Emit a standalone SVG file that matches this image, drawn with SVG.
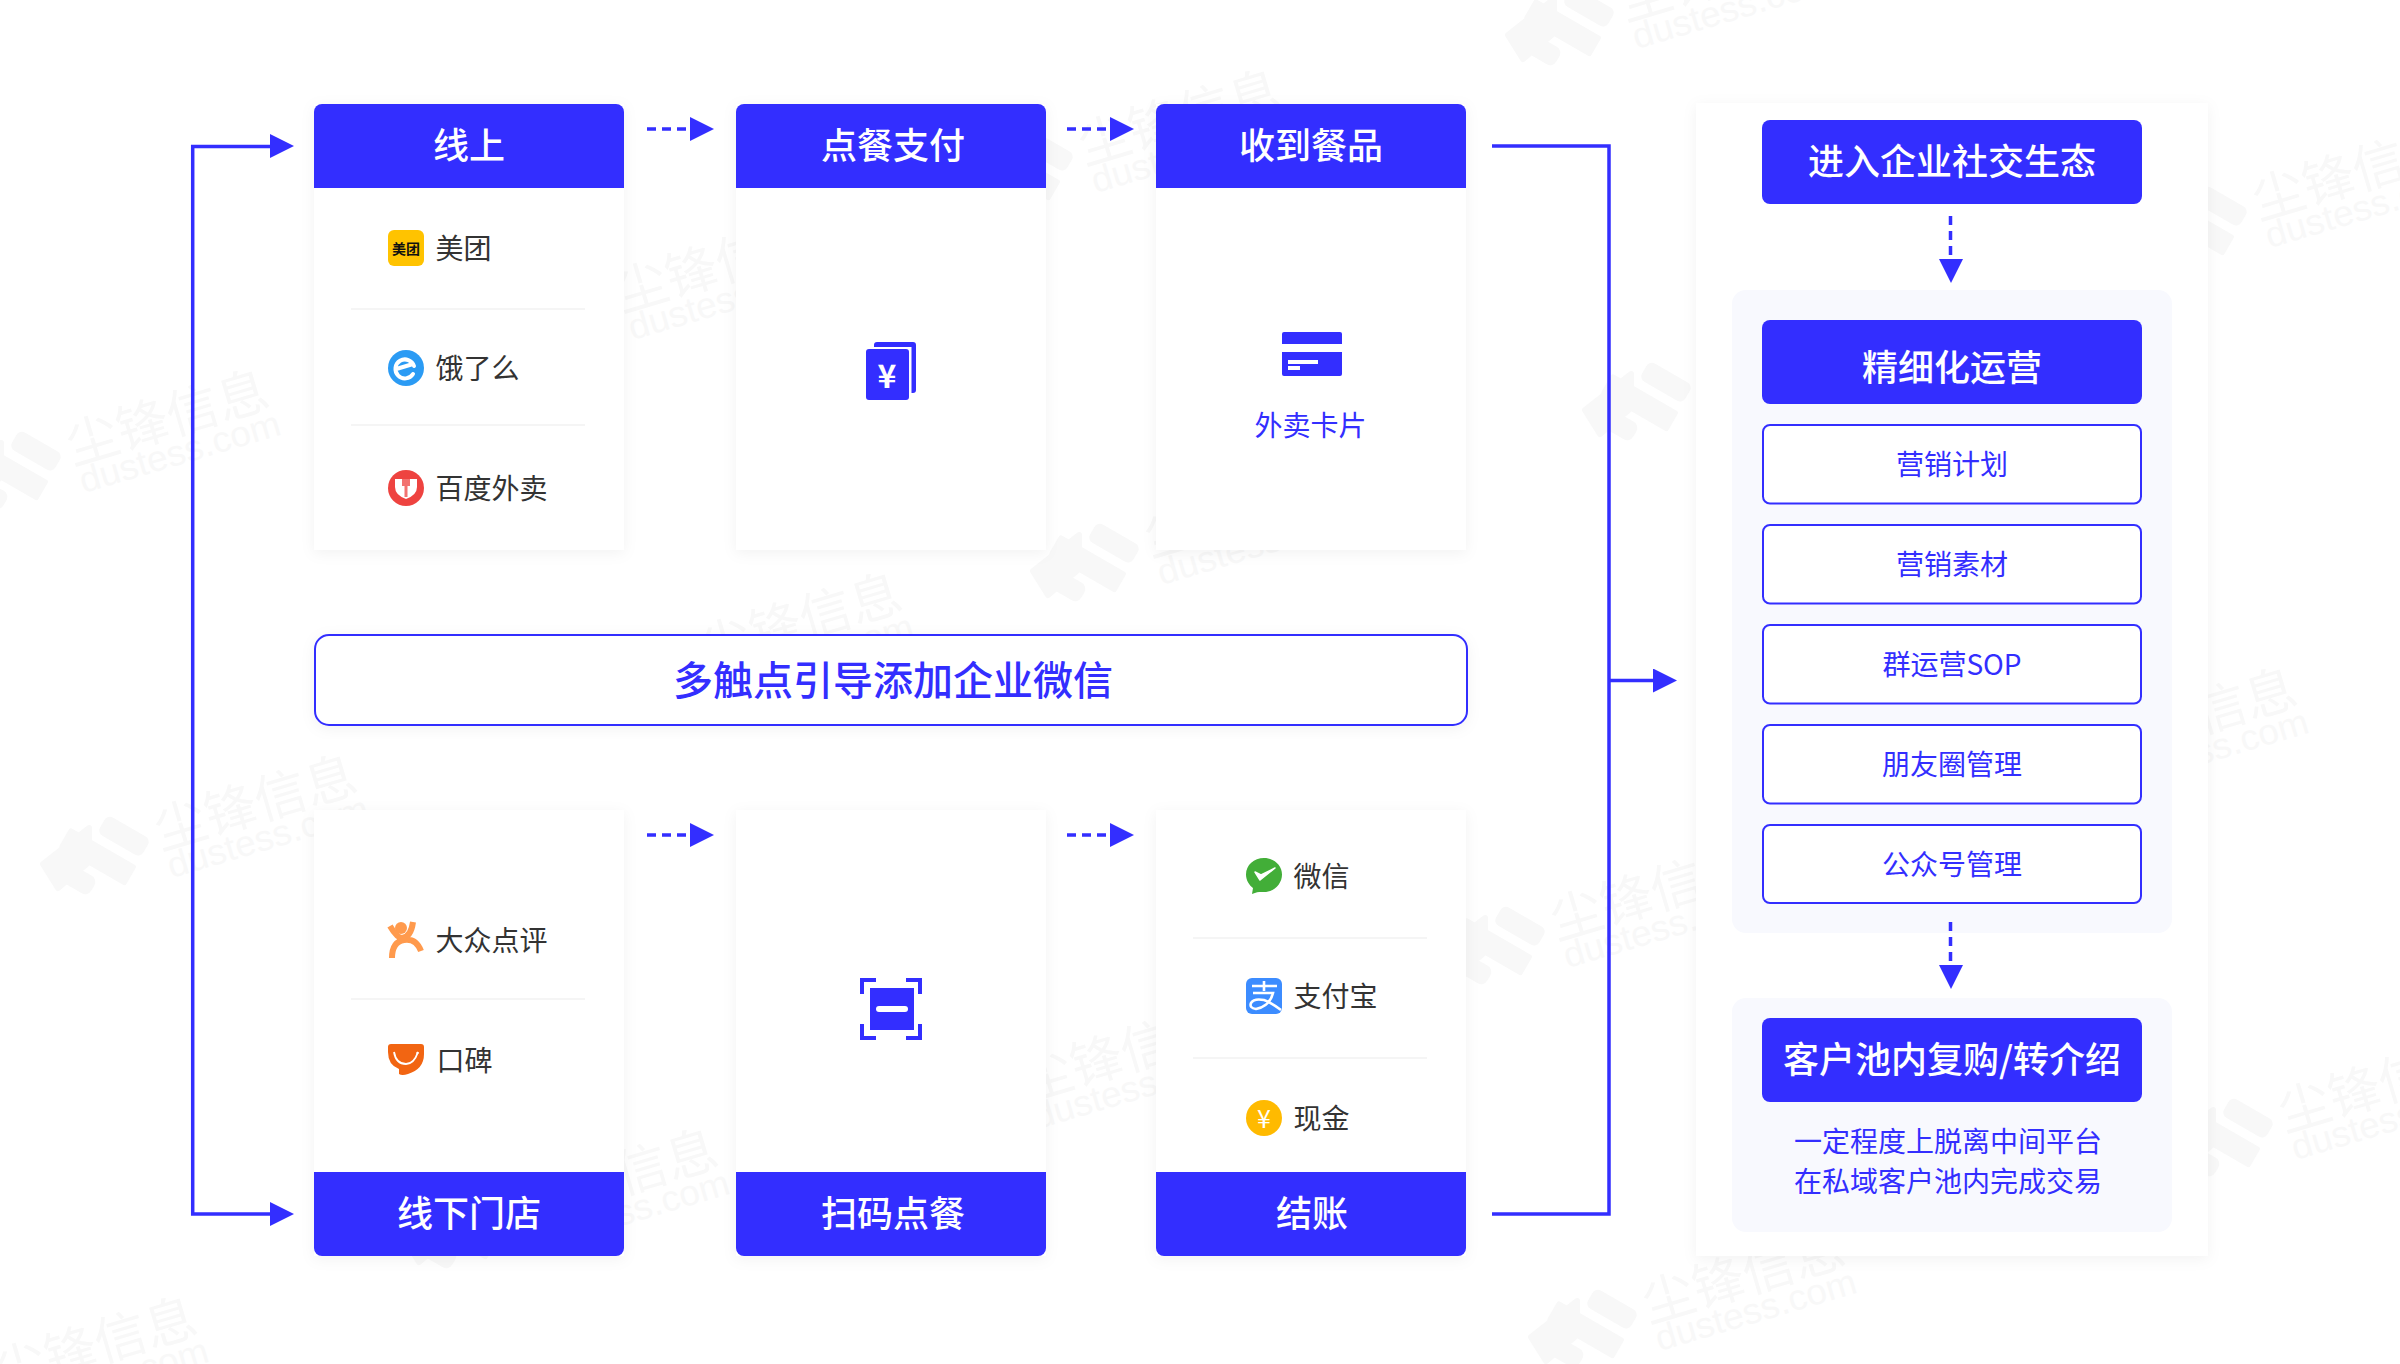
<svg xmlns="http://www.w3.org/2000/svg" width="2400" height="1364" viewBox="0 0 2400 1364">
<style>
text{font-family:"Noto Sans CJK SC","Noto Sans",sans-serif;dominant-baseline:central}
.h{fill:#fff;font-size:36px;font-weight:500;text-anchor:middle;transform:translateY(-3px)}
.b{fill:#332eff;font-size:28px;text-anchor:middle;transform:translateY(-2px)}
.i{fill:#333;font-size:28px;transform:translate(-1.5px,-1.5px)}
.blue{fill:#332eff}
.card{fill:#fff;filter:url(#sh)}
.div{fill:#f5f5f5}
.out{fill:#fff;stroke:#332eff;stroke-width:2}
.pale{fill:#f8f9fe}
.c{fill:none;stroke:#332eff;stroke-width:3.5}
.d{fill:none;stroke:#332eff;stroke-width:3.5;stroke-dasharray:9 6}
.wt{font-size:52px;fill:#f8f8f8;dominant-baseline:auto}
.wl{font-size:36px;fill:#f8f8f8;font-family:"Liberation Sans",sans-serif;dominant-baseline:auto}
.wm{fill:#f8f8f8}
</style>
<defs>
<filter id="sh" x="-15%" y="-15%" width="130%" height="130%"><feDropShadow dx="0" dy="3" stdDeviation="7" flood-color="#000" flood-opacity="0.05"/></filter>
<marker id="ah" markerUnits="userSpaceOnUse" markerWidth="24" markerHeight="24" refX="0" refY="12" orient="auto"><path d="M0 0L24 12L0 24Z" fill="#332eff"/></marker>
<g id="w">
<g class="wm" transform="rotate(30)">
<rect x="-64" y="-4" width="50" height="21" rx="6"/>
<rect x="-90" y="26" width="77" height="23" rx="2"/>
<rect x="-86" y="57" width="46" height="20" rx="7"/>
</g>
<path class="wm" d="M-72-22L-118 14L-103 38L-72 12Z" stroke="#f8f8f8" stroke-width="6" stroke-linejoin="round"/>
<g transform="rotate(-16.5)">
<text class="wt" x="0" y="0" textLength="208" lengthAdjust="spacingAndGlyphs">尘锋信息</text>
<text class="wl" x="2" y="30" textLength="208" lengthAdjust="spacingAndGlyphs">dustess.com</text>
</g>
</g>
</defs>
<rect width="2400" height="1364" fill="#fff"/>
<g id="watermarks">
<use href="#w" x="73" y="465"/><use href="#w" x="161" y="850"/><use href="#w" x="706" y="668"/><use href="#w" x="1151" y="557"/><use href="#w" x="1649" y="1323"/><use href="#w" x="1703" y="396"/><use href="#w" x="1626" y="21"/><use href="#w" x="2259" y="220"/><use href="#w" x="1557" y="940"/><use href="#w" x="622" y="312"/><use href="#w" x="1027" y="1101"/><use href="#w" x="522" y="1224"/><use href="#w" x="2285" y="1132"/><use href="#w" x="2101" y="763"/><use href="#w" x="1" y="1392"/><use href="#w" x="1085" y="165"/>
</g>

<g id="connectors">
<path class="c" d="M270 146.500H192.700V1214H270"/>
<path d="M270 134L294 146L270 158Z M270 1202L294 1214L270 1226Z" fill="#332eff"/>
<path class="c" d="M1492 146H1609V1214H1492"/>
<path class="c" d="M1609 680.500H1653" marker-end="url(#ah)"/>
<path class="d" d="M647 129H690" marker-end="url(#ah)"/>
<path class="d" d="M1067 129H1110" marker-end="url(#ah)"/>
<path class="d" d="M647 835H690" marker-end="url(#ah)"/>
<path class="d" d="M1067 835H1110" marker-end="url(#ah)"/>
</g>

<g id="online">
<path class="card" d="M314 104H624V550H314Z"/>
<path class="blue" d="M322 104H616a8 8 0 0 1 8 8V188H314V112a8 8 0 0 1 8-8Z"/>
<text class="h" x="469" y="146">线上</text>
<rect x="388" y="230" width="36" height="36" rx="6" fill="#ffc300"/>
<text x="406" y="248" font-size="14" font-weight="700" fill="#111" text-anchor="middle">美团</text>
<text class="i" x="437" y="248">美团</text>
<rect class="div" x="351" y="308" width="234" height="2"/>
<circle cx="406" cy="368" r="18" fill="#2b9bf4"/>
<path d="M414 366A9.500 9.500 0 1 0 413 374M398 368.500L413 364" fill="none" stroke="#fff" stroke-width="4" stroke-linecap="round"/>
<text class="i" x="437" y="368">饿了么</text>
<rect class="div" x="351" y="424" width="234" height="2"/>
<circle cx="406" cy="488" r="18" fill="#ee4340"/>
<path d="M395 479H417V487Q417 495 406 499Q395 495 395 487Z" fill="#fff"/>
<path d="M402 479H410V486H407.500V497H404.500V486H402Z" fill="#ee4340" opacity="0.75"/>
<text class="i" x="437" y="488">百度外卖</text>
</g>

<g id="order-pay">
<path class="card" d="M736 104H1046V550H736Z"/>
<path class="blue" d="M744 104H1038a8 8 0 0 1 8 8V188H736V112a8 8 0 0 1 8-8Z"/>
<text class="h" x="893" y="146">点餐支付</text>
<path class="blue" d="M874 345a3 3 0 0 1 3-3H913a3 3 0 0 1 3 3V390a3 3 0 0 1-3 3H911.500V347H874Z"/>
<rect class="blue" x="866" y="349" width="43" height="51" rx="3"/>
<text x="887" y="374" font-size="32" font-weight="700" fill="#fff" text-anchor="middle">¥</text>
</g>

<g id="receive">
<path class="card" d="M1156 104H1466V550H1156Z"/>
<path class="blue" d="M1164 104H1458a8 8 0 0 1 8 8V188H1156V112a8 8 0 0 1 8-8Z"/>
<text class="h" x="1311" y="146">收到餐品</text>
<path class="blue" d="M1284 332H1340a2 2 0 0 1 2 2V344H1282V334a2 2 0 0 1 2-2Z"/>
<path class="blue" d="M1282 352H1342V374a2 2 0 0 1-2 2H1284a2 2 0 0 1-2-2Z"/>
<rect x="1288" y="360" width="30" height="4" fill="#fff"/>
<rect x="1288" y="366" width="12" height="4" fill="#fff"/>
<text class="b" x="1310.500" y="426">外卖卡片</text>
</g>

<g id="banner">
<rect class="out" x="315" y="635" width="1152" height="90" rx="14" filter="url(#sh)"/>
<text x="893" y="678" font-size="40" font-weight="500" fill="#332eff" text-anchor="middle">多触点引导添加企业微信</text>
</g>

<g id="offline">
<path class="card" d="M314 810H624V1256H314Z"/>
<path class="blue" d="M314 1172H624V1248a8 8 0 0 1-8 8H322a8 8 0 0 1-8-8Z"/>
<text class="h" x="469" y="1214">线下门店</text>
<circle cx="401" cy="928" r="6" fill="#ff9a4d"/>
<path d="M390 926Q397 938 402 938Q411 937 413 922M392 958Q392 942 404 940Q416 938 421 951" fill="none" stroke="#ff9a4d" stroke-width="6"/>
<text class="i" x="437" y="940">大众点评</text>
<rect class="div" x="351" y="998" width="234" height="2"/>
<path d="M388 1047a3 3 0 0 1 3-3H421a3 3 0 0 1 3 3V1054Q424 1069 408 1074Q402 1076 399 1074V1069Q388 1065 388 1052Z" fill="#f26512"/>
<path d="M394 1052Q396 1064 406 1064Q414 1064 418 1052" fill="none" stroke="#fff" stroke-width="1.800"/>
<circle cx="417.500" cy="1053" r="1.200" fill="#fff"/>
<text class="i" x="438" y="1060">口碑</text>
</g>

<g id="scan-order">
<path class="card" d="M736 810H1046V1256H736Z"/>
<path class="blue" d="M736 1172H1046V1248a8 8 0 0 1-8 8H744a8 8 0 0 1-8-8Z"/>
<text class="h" x="893" y="1214">扫码点餐</text>
<path d="M876 980H862V994M906 980H920V994M862 1024V1038H876M920 1024V1038H906" fill="none" stroke="#332eff" stroke-width="4"/>
<rect class="blue" x="870" y="988" width="44" height="42"/>
<rect x="876" y="1006" width="32" height="6" rx="3" fill="#fff"/>
</g>

<g id="checkout">
<path class="card" d="M1156 810H1466V1256H1156Z"/>
<path class="blue" d="M1156 1172H1466V1248a8 8 0 0 1-8 8H1164a8 8 0 0 1-8-8Z"/>
<text class="h" x="1312" y="1214">结账</text>
<path d="M1264 858C1274 858 1282 865 1282 874.500C1282 884 1274 892 1264 892C1260 892 1258 891.500 1252 894L1253 888C1249 885 1246 880 1246 874.500C1246 865 1254 858 1264 858Z" fill="#42ae38"/>
<path d="M1255 872L1260 880L1275 868L1261 875Z" fill="#fff" stroke="#fff" stroke-width="1.500" stroke-linejoin="round"/>
<text class="i" x="1295" y="876">微信</text>
<rect class="div" x="1193" y="937" width="234" height="2"/>
<rect x="1246" y="978" width="36" height="36" rx="6" fill="#3c8cff"/>
<path d="M1264 981V991M1252 986H1277M1253 993H1273Q1270 1006 1256 1009Q1249 1008 1251 1003Q1254 998 1264 1000Q1270 1002 1281 1010" fill="none" stroke="#fff" stroke-width="2.600"/>
<text class="i" x="1295" y="996">支付宝</text>
<rect class="div" x="1193" y="1057" width="234" height="2"/>
<circle cx="1264" cy="1118" r="18" fill="#ffba00"/>
<text x="1264" y="1117" font-size="25" fill="#fff" text-anchor="middle">¥</text>
<text class="i" x="1295" y="1118">现金</text>
</g>

<g id="right-panel">
<rect class="card" x="1696" y="103" width="512" height="1153"/>
<rect class="blue" x="1762" y="120" width="380" height="84" rx="8"/>
<text class="h" x="1952" y="162">进入企业社交生态</text>
<path class="d" d="M1950.500 216V259"/>
<path d="M1939 259H1963L1951 283Z" fill="#332eff"/>
<rect class="pale" x="1732" y="290" width="440" height="643" rx="14"/>
<rect class="blue" x="1762" y="320" width="380" height="84" rx="8"/>
<text class="h" x="1952" y="368">精细化运营</text>
<g id="ops-items">
<rect class="out" x="1763" y="425" width="378" height="78.500" rx="7"/><text class="b" x="1952" y="465">营销计划</text>
<rect class="out" x="1763" y="525" width="378" height="78.500" rx="7"/><text class="b" x="1952" y="565">营销素材</text>
<rect class="out" x="1763" y="625" width="378" height="78.500" rx="7"/><text class="b" x="1952" y="665">群运营SOP</text>
<rect class="out" x="1763" y="725" width="378" height="78.500" rx="7"/><text class="b" x="1952" y="765">朋友圈管理</text>
<rect class="out" x="1763" y="825" width="378" height="78" rx="7"/><text class="b" x="1952" y="865">公众号管理</text>
</g>
<path class="d" d="M1950.500 922V965"/>
<path d="M1939 965H1963L1951 989Z" fill="#332eff"/>
<rect class="pale" x="1732" y="998" width="440" height="234" rx="14"/>
<rect class="blue" x="1762" y="1018" width="380" height="84" rx="8"/>
<text class="h" x="1952" y="1060">客户池内复购/转介绍</text>
<text class="b" x="1948" y="1142">一定程度上脱离中间平台</text>
<text class="b" x="1948" y="1182">在私域客户池内完成交易</text>
</g>
</svg>
